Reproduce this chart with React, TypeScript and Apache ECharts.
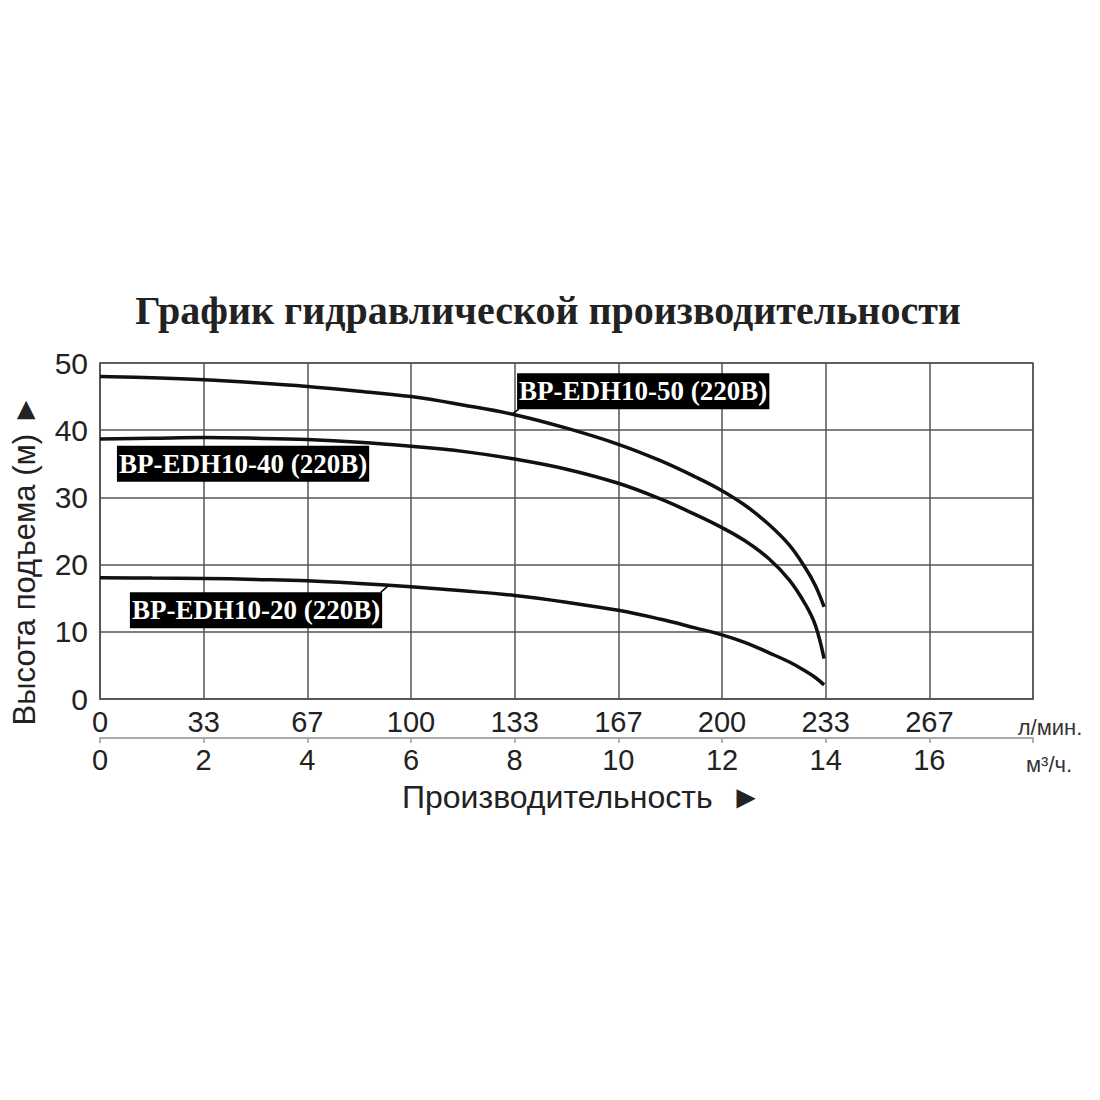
import React, { useEffect, useRef } from 'react';
import * as echarts from 'echarts';

// flow in m³/h (1 m³/h = 16.67 l/min), head in m
const flow = [0, 1, 2, 3, 4, 5, 6, 7, 8, 9, 10, 10.8, 11.5, 12, 12.45, 12.9, 13.3, 13.6, 13.8, 13.97];
const head50 = [48.0, 47.8, 47.5, 47.05, 46.5, 45.8, 45.0, 43.75, 42.3, 40.3, 37.9, 35.5, 33.0, 31.0, 28.8, 26.0, 22.9, 19.6, 16.9, 13.7];
const head40 = [38.7, 38.8, 38.9, 38.8, 38.6, 38.2, 37.6, 36.85, 35.7, 34.2, 32.1, 29.8, 27.4, 25.5, 23.5, 20.9, 17.7, 14.2, 11.0, 6.0];
const head20 = [18.05, 18.0, 17.95, 17.8, 17.6, 17.2, 16.7, 16.1, 15.4, 14.4, 13.2, 11.9, 10.55, 9.55, 8.4, 6.9, 5.5, 4.2, 3.2, 2.1];

const names = ['BP-EDH10-50 (220B)', 'BP-EDH10-40 (220B)', 'BP-EDH10-20 (220B)'];
// label box centres, in data units [m³/h, m]
const labelAt = [[10.48, 45.8], [2.76, 35.0], [3.01, 13.2]];
// short leader lines from box to curve, in data units
const tails = [
  [[8.08, 43.15], [7.95, 42.4]],
  null,
  [[5.42, 15.9], [5.57, 16.9]],
];

const lpmTicks = (v: number) => (v >= 18 ? '' : String(Math.round((v * 50) / 3)));
const m3hTicks = (v: number) => (v >= 18 ? '' : String(v));

const sans = 'Liberation Sans, Arial, sans-serif';
const serif = 'Liberation Serif, Times New Roman, serif';

const App: React.FC = () => {
  const ref = useRef<HTMLDivElement>(null);

  useEffect(() => {
    if (!ref.current) return;
    const chart = echarts.init(ref.current, null, { renderer: 'svg' });

    const series = [head50, head40, head20].map((h, i) => ({
      type: 'line',
      name: names[i],
      data: flow.map((f, j) => [f, h[j]]),
      smooth: 0.4,
      showSymbol: false,
      symbol: 'none',
      lineStyle: { color: '#111', width: 3.5 },
      z: 5,
      markPoint: {
        silent: true,
        symbol: 'rect',
        symbolSize: 1,
        itemStyle: { color: 'rgba(0,0,0,0)' },
        label: {
          show: true,
          position: 'inside',
          formatter: names[i],
          color: '#fff',
          backgroundColor: '#000',
          fontFamily: serif,
          fontWeight: 'bold',
          fontSize: 27,
          lineHeight: 30,
          padding: [4, 2, 2, 2],
        },
        data: [{ coord: labelAt[i] }],
      },
      markLine: tails[i]
        ? {
            silent: true,
            symbol: ['none', 'none'],
            label: { show: false },
            lineStyle: { color: '#000', width: 1.5, type: 'solid' },
            data: [[{ coord: tails[i]![0] }, { coord: tails[i]![1] }]],
          }
        : undefined,
    }));

    chart.setOption({
      animation: false,
      backgroundColor: '#fff',
      grid: {
        left: 100, right: 67, top: 363, bottom: 401,
        show: true, borderColor: '#555', borderWidth: 1.5,
      },
      xAxis: [
        {
          type: 'value', min: 0, max: 18, interval: 2, position: 'bottom',
          axisLine: { show: true, lineStyle: { color: '#555', width: 1.5 } },
          axisTick: { show: false },
          splitLine: { show: true, lineStyle: { color: '#555', width: 1.5 } },
          axisLabel: { formatter: lpmTicks, color: '#222', fontFamily: sans, fontSize: 29, margin: 8 },
        },
        {
          type: 'value', min: 0, max: 18, interval: 2, position: 'bottom', offset: 39,
          axisLine: { show: true, onZero: false, lineStyle: { color: '#aaa', width: 2 } },
          axisTick: { show: true, length: 5, lineStyle: { color: '#999', width: 1.5 } },
          splitLine: { show: false },
          axisLabel: { formatter: m3hTicks, color: '#222', fontFamily: sans, fontSize: 29, margin: 7 },
        },
      ],
      yAxis: {
        type: 'value', min: 0, max: 50, interval: 10,
        axisLine: { show: true, lineStyle: { color: '#555', width: 1.5 } },
        axisTick: { show: false },
        splitLine: { show: true, lineStyle: { color: '#555', width: 1.5 } },
        axisLabel: { color: '#222', fontFamily: sans, fontSize: 30, margin: 12 },
      },
      graphic: [
        {
          type: 'text', x: 548, y: 310,
          style: {
            text: 'График гидравлической производительности',
            font: `bold 40px ${serif}`, fill: '#222',
            textAlign: 'center', textVerticalAlign: 'middle',
          },
        },
        {
          type: 'text', x: 24, y: 560, rotation: Math.PI / 2,
          style: {
            text: 'Высота подъема (м) ►',
            font: `31px ${sans}`, fill: '#222',
            textAlign: 'center', textVerticalAlign: 'middle',
          },
        },
        {
          type: 'text', x: 582, y: 797,
          style: {
            text: 'Производительность  ►',
            font: `32px ${sans}`, fill: '#222',
            textAlign: 'center', textVerticalAlign: 'middle',
          },
        },
        {
          type: 'text', x: 1050, y: 727,
          style: { text: 'л/мин.', font: `22px ${sans}`, fill: '#333', textAlign: 'center', textVerticalAlign: 'middle' },
        },
        {
          type: 'text', x: 1049, y: 764,
          style: { text: 'м³/ч.', font: `22px ${sans}`, fill: '#333', textAlign: 'center', textVerticalAlign: 'middle' },
        },
      ],
      series,
    });

    return () => { chart.dispose(); };
  }, []);

  return (
    <div
      ref={ref}
      style={{ position: 'absolute', left: 0, top: 0, width: 1100, height: 1100, background: '#fff' }}
    />
  );
};

export default App;
